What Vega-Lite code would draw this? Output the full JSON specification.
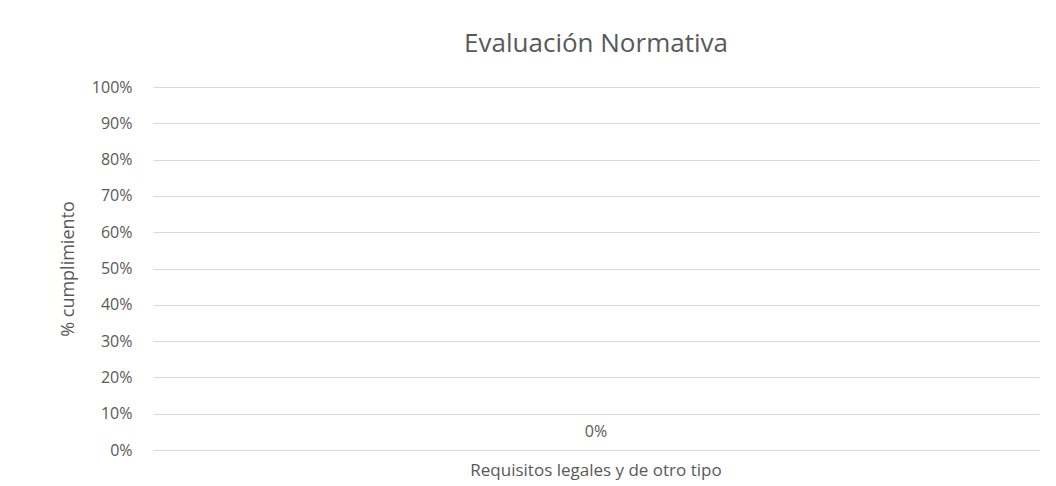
{
  "$schema": "https://vega.github.io/schema/vega-lite/v6.json",
  "autosize": "none",
  "width": 886,
  "height": 363,
  "padding": {"left": 153, "top": 87, "right": 17, "bottom": 36},
  "background": "white",
  "config": {
    "view": {"stroke": null},
    "font": "Open Sans"
  },
  "title": {
    "text": "Evaluación Normativa",
    "fontSize": 26,
    "font": "Open Sans",
    "fontWeight": "normal",
    "color": "#595959",
    "anchor": "middle",
    "offset": 22
  },
  "data": {"values": [{"categoria": "Requisitos legales y de otro tipo", "cumplimiento": 0}]},
  "encoding": {
    "x": {
      "field": "categoria",
      "type": "nominal",
      "title": null,
      "axis": {
        "labelAngle": 0,
        "labelFontSize": 17,
        "labelLimit": 0,
        "labelColor": "#595959",
        "labelPadding": 12,
        "ticks": false,
        "domain": false
      }
    },
    "y": {
      "field": "cumplimiento",
      "type": "quantitative",
      "title": "% cumplimiento",
      "scale": {"domain": [0, 1]},
      "axis": {
        "values": [0, 0.1, 0.2, 0.3, 0.4, 0.5, 0.6, 0.7, 0.8, 0.9, 1],
        "format": ".0%",
        "labelFontSize": 16,
        "labelColor": "#595959",
        "labelPadding": 21,
        "ticks": false,
        "domain": false,
        "gridColor": "#d9d9d9",
        "gridWidth": 1,
        "titleFontSize": 18,
        "titleFontWeight": "normal",
        "titleColor": "#595959",
        "titlePadding": 14
      }
    }
  },
  "layer": [
    {"mark": {"type": "bar", "color": "#4472C4", "width": 150}},
    {
      "mark": {"type": "text", "dy": -18, "fontSize": 16, "color": "#595959"},
      "encoding": {"text": {"field": "cumplimiento", "type": "quantitative", "format": ".0%"}}
    }
  ]
}
